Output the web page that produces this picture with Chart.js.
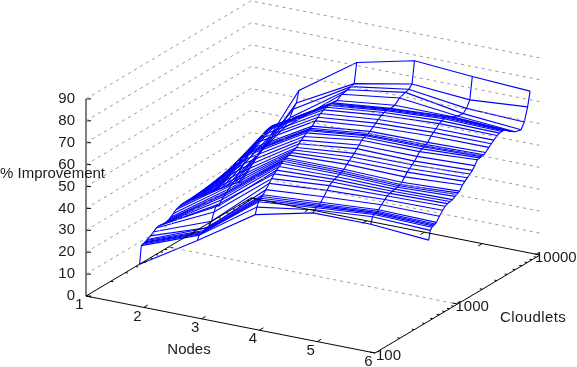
<!DOCTYPE html>
<html>
<head>
<meta charset="utf-8">
<title>% Improvement</title>
<script src="https://cdn.jsdelivr.net/npm/chart.js@4"></script>
<style>
    html, body { margin: 0; padding: 0; background: #fff; }
    canvas { display: block; }
</style>
</head>
<body>
<canvas id="surfaceChart" width="577" height="367"></canvas>
<script>
// values
const nodes = [1, 2, 3, 4, 5, 6];
const cloudlets = [447, 468, 490, 506, 520, 537, 554, 603, 661, 708, 759, 813, 871, 933, 977,
    1014, 1059, 1148, 1230, 1318, 1413, 1514, 1622, 1738, 1862, 1950, 2014, 2089, 2188, 2399,
    2570, 2754, 3020, 3236, 3436, 3565, 3698, 3890, 4365, 5012, 5888, 6457, 7079, 7586];

const improvement1 = [0, 8, 8.3, 8.5, 8.7, 9, 9.2, 10, 11, 12, 12.3, 12.2, 12, 12, 12.2,
    12.5, 13, 14, 15, 15.5, 15.8, 16, 16, 15.8, 15.5, 15.2, 15, 15, 14.8, 14.5,
    14.2, 14, 13.7, 13.4, 13.2, 13, 13, 12.8, 12.4, 12, 11.5, 11, 10.5, 10];
const improvement2 = [16, 18, 18.2, 18.3, 18.5, 18.8, 19.5, 19, 21, 24.5, 27, 26, 28, 29, 29.7,
    30.2, 31, 32, 33, 34, 35.5, 37, 38.5, 40, 41.2, 41.8, 42, 42.5, 43, 44.5,
    45.5, 46.5, 47.5, 47.8, 48, 48, 48, 47.5, 46, 44, 47, 50, 52, 57];
const improvement3 = [33, 36, 38, 38.5, 39, 39.5, 40, 41.5, 43.5, 45, 46.5, 47.5, 48.5, 49.3, 49.8,
    50.2, 50.5, 51, 51.5, 52, 52.5, 53.5, 54.5, 55.5, 56.5, 57, 57.2, 57.5, 58, 59.5,
    60.5, 61.5, 62.3, 62.8, 63, 63.1, 63.1, 63, 63, 64.5, 65, 65.5, 66, 75];
const improvement4 = [39, 40, 40.5, 40.8, 41, 41.3, 41.8, 43.5, 45.5, 47, 48, 48.5, 49, 49.5, 49.8,
    50.2, 50.6, 52, 53, 54, 55, 56.5, 57.5, 59, 59.6, 59.9, 60, 60.3, 60.8, 62,
    63, 64, 65, 65.6, 65.9, 66, 66, 65.7, 66, 68, 69, 69.5, 71, 81];
const improvement5 = [39, 42, 42.6, 42.8, 43, 43.2, 43.6, 45, 46.5, 47.5, 48, 48.3, 48.6, 48.8, 49,
    49.2, 49.8, 51.5, 53, 54, 55, 56, 57.5, 59, 59.6, 60, 60.1, 60.4, 61, 63,
    64, 65, 66.4, 67, 67.4, 67.5, 67.5, 67.2, 66, 65, 64.5, 66, 69, 79];
const improvement6 = [37, 41, 42, 42.2, 42.4, 42.6, 43, 45, 46.8, 48, 48.5, 48.8, 49, 49.8, 50.2,
    50.6, 51, 53, 54, 55, 56, 57, 58.5, 60.5, 60.7, 60.8, 60.9, 61, 61.6, 63,
    64, 65, 66.2, 66.6, 66.8, 66.8, 66.7, 66.2, 64.5, 63, 62.3, 65, 71, 77.5];

const zTicks = [0, 10, 20, 30, 40, 50, 60, 70, 80, 90];
const xTicks = [1, 2, 3, 4, 5, 6];
const yTicks = [100, 1000, 10000];
const yMinorTicks = [200, 300, 400, 500, 600, 700, 800, 900, 2000, 3000, 4000, 5000, 6000, 7000, 8000, 9000];

const columns = [improvement1, improvement2, improvement3, improvement4, improvement5, improvement6];

// gnuplot style view, turned into plain x/y for the scatter scales
function project(node, cloudlet, z) {
    const t = Math.log10(cloudlet / 100) / 2;
    return {
        x: 86 + (node - 1) * 57.8 + t * 165,
        y: 296 + (node - 1) * 11.4 - t * 98 - z * 2.19
    };
}

function line(data, color, width, dash) {
    return {
        data: data,
        showLine: true,
        borderColor: color,
        borderWidth: width,
        borderDash: dash || [],
        pointRadius: 0,
        tension: 0,
        fill: false,
        clip: false
    };
}

function shifted(p, dx, dy) {
    return { x: p.x + dx, y: p.y + dy };
}

const datasets = [];
const gridColor = '#999999';
const gridDash = [3, 4];
const blue = '#0000ff';

// back walls
zTicks.slice(1).forEach(z => {
    datasets.push(line([project(1, 100, z), project(1, 10000, z), project(6, 10000, z)], gridColor, 1, gridDash));
});
datasets.push(line([project(1, 1000, 0), project(6, 1000, 0)], gridColor, 1, gridDash));

// base box and z axis
datasets.push(line([project(1, 100, 0), project(6, 100, 0), project(6, 10000, 0), project(1, 10000, 0), project(1, 100, 0)], '#000', 1));
datasets.push(line([project(1, 100, 0), project(1, 100, 90)], '#000', 1));

zTicks.forEach(z => {
    const p = project(1, 100, z);
    datasets.push(line([p, shifted(p, 5, 0)], '#000', 1));
});
xTicks.slice(1, 5).forEach(n => {
    const front = project(n, 100, 0);
    const back = project(n, 10000, 0);
    datasets.push(line([front, shifted(front, 4, -2.4)], '#000', 1));
    datasets.push(line([back, shifted(back, -4, 2.4)], '#000', 1));
});
yTicks.forEach(c => {
    const right = project(6, c, 0);
    const left = project(1, c, 0);
    datasets.push(line([right, shifted(right, -5, -1)], '#000', 1));
    datasets.push(line([left, shifted(left, 5, 1)], '#000', 1));
});
yMinorTicks.forEach(c => {
    const right = project(6, c, 0);
    const left = project(1, c, 0);
    datasets.push(line([right, shifted(right, -2.5, -0.5)], '#000', 1));
    datasets.push(line([left, shifted(left, 2.5, 0.5)], '#000', 1));
});

// surface wireframe
cloudlets.forEach((c, row) => {
    datasets.push(line(nodes.map((n, col) => project(n, c, columns[col][row])), blue, 1.1));
});
nodes.forEach((n, col) => {
    datasets.push(line(cloudlets.map((c, row) => project(n, c, columns[col][row])), blue, 1.1));
});

const labelsPlugin = {
    id: 'labels',
    afterDraw(chart) {
        const ctx = chart.ctx;
        ctx.save();
        ctx.fillStyle = '#1a1a1a';
        ctx.font = '15px "Liberation Sans"';
        ctx.textBaseline = 'middle';

        ctx.textAlign = 'right';
        zTicks.forEach(z => {
            const p = project(1, 100, z);
            ctx.fillText(String(z), p.x - 11, p.y);
        });

        ctx.textAlign = 'center';
        xTicks.forEach(n => {
            const p = project(n, 100, 0);
            ctx.fillText(String(n), p.x - 6.5, p.y + 9);
        });

        // the wider the label the further it starts back from its tick
        ctx.textAlign = 'left';
        yTicks.forEach((c, i) => {
            const p = project(6, c, 0);
            ctx.fillText(String(c), p.x + 1 - i * 3, p.y + 3);
        });

        ctx.fillText('% Improvement', 0, 174);
        ctx.letterSpacing = '0.4px';
        ctx.fillText('Cloudlets', 500, 318);
        ctx.letterSpacing = '0px';
        ctx.textAlign = 'center';
        ctx.fillText('Nodes', 189, 350);
        ctx.restore();
    }
};

new Chart(document.getElementById('surfaceChart').getContext('2d'), {
    type: 'scatter',
    data: { datasets: datasets },
    options: {
        responsive: false,
        animation: false,
        layout: { padding: 0 },
        plugins: { legend: { display: false }, tooltip: { enabled: false } },
        scales: {
            x: { type: 'linear', min: 0, max: 577, display: false },
            y: { type: 'linear', min: 0, max: 367, reverse: true, display: false }
        }
    },
    plugins: [labelsPlugin]
});
</script>
</body>
</html>
